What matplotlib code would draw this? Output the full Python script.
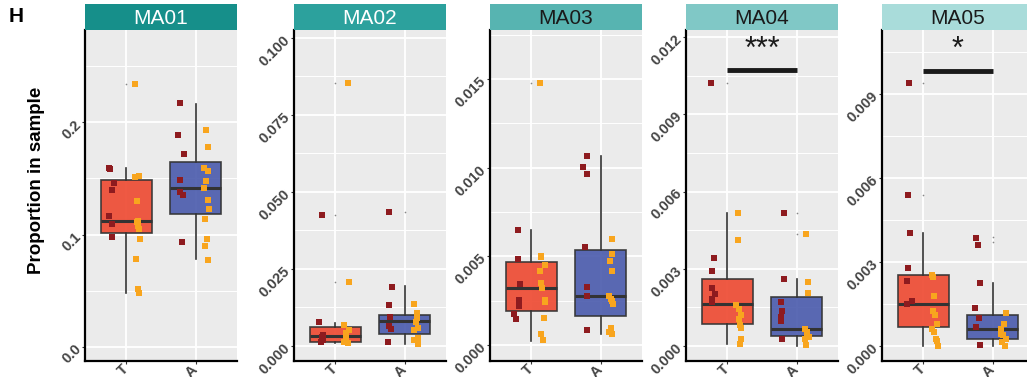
import matplotlib
matplotlib.use('Agg')
import matplotlib.pyplot as plt
import numpy as np

plt.rcParams['font.family'] = ['Liberation Sans', 'DejaVu Sans']

# ─── Data ───────────────────────────────────────────────────────────
panels = ['MA01', 'MA02', 'MA03', 'MA04', 'MA05']
groups = ['T', 'A']

# jittered points: dark red subgroup and orange subgroup, per panel
t_dark = [
    [0.1597, 0.1588, 0.1460, 0.1393, 0.1162, 0.1096, 0.0975],
    [0.0425, 0.0077, 0.0036, 0.0030, 0.0025, 0.0018, 0.0012],
    [0.00648, 0.00487, 0.00346, 0.00252, 0.0022, 0.00177, 0.00147],
    [0.01023, 0.0034, 0.0029, 0.00224, 0.00203, 0.00181, 0.0017],
    [0.0094, 0.00539, 0.00405, 0.0028, 0.00232, 0.00162, 0.00149],
]
t_orange = [
    [0.234, 0.1523, 0.1515, 0.1295, 0.1117, 0.1108, 0.1081, 0.1052, 0.0963, 0.0782, 0.0518, 0.0483],
    [0.0853, 0.0208, 0.0068, 0.0052, 0.0043, 0.0027, 0.0013, 0.0011],
    [0.01477, 0.00502, 0.00495, 0.0045, 0.00419, 0.00351, 0.00321, 0.00256, 0.00243, 0.00152, 0.0006, 0.00028],
    [0.00515, 0.00412, 0.00158, 0.00145, 0.0012, 0.00105, 0.00082, 0.00071, 0.00027, 0.00009],
    [0.00252, 0.00245, 0.00177, 0.00126, 0.0011, 0.00079, 0.0006, 0.00048, 0.00024, 0.00019, 0.0],
]
a_dark = [
    [0.2175, 0.189, 0.1716, 0.1484, 0.1375, 0.1354, 0.0933],
    [0.0435, 0.0192, 0.0134, 0.0094, 0.0066, 0.0054, 0.0013],
    [0.01067, 0.01006, 0.00966, 0.00553, 0.00329, 0.00276, 0.00085],
    [0.00515, 0.0026, 0.00172, 0.00138, 0.00114, 0.00097, 0.00026],
    [0.00387, 0.0036, 0.00226, 0.00136, 0.00099, 0.00069, 0.00004],
]
a_orange = [
    [0.1929, 0.178, 0.1594, 0.157, 0.1481, 0.1416, 0.131, 0.123, 0.114, 0.0963, 0.0898, 0.0773],
    [0.0136, 0.0108, 0.009, 0.0079, 0.0057, 0.0052, 0.0025, 0.0019, 0.0006],
    [0.006, 0.00513, 0.00472, 0.00417, 0.00276, 0.00257, 0.00248, 0.0023, 0.00098, 0.00071, 0.0006],
    [0.00435, 0.0025, 0.00207, 0.00065, 0.00056, 0.00043, 0.00034, 0.00026, 0.00003],
    [0.00119, 0.0008, 0.0006, 0.00044, 0.00039, 0.00025, 0.00015, 0.0],
]

# box stats: (lower whisker, q1, median, q3, upper whisker)
t_box = [
    (0.0483, 0.1016, 0.112, 0.1484, 0.1597),
    (0.0009, 0.0014, 0.0032, 0.0061, 0.0076),
    (0.00024, 0.00193, 0.00321, 0.00466, 0.00648),
    (0.00007, 0.00084, 0.00162, 0.00261, 0.00515),
    (0.0, 0.00067, 0.00149, 0.00254, 0.00402),
]
a_box = [
    (0.078, 0.1185, 0.1416, 0.165, 0.2166),
    (0.0006, 0.0038, 0.008, 0.0102, 0.0195),
    (0.0006, 0.00165, 0.00276, 0.00534, 0.01066),
    (0.00001, 0.00038, 0.00065, 0.0019, 0.00259),
    (0.0, 0.00023, 0.0006, 0.00112, 0.00225),
]
t_out = [[0.2338], [0.0425, 0.0853, 0.0208], [0.0148], [0.0102], [0.0094, 0.00539]]
a_out = [[], [0.0435], [], [0.00515, 0.00435], [0.00388, 0.0037]]

sig_text = ['', '', '', '***', '*']
sig_y = [None, None, None, 0.0107, 0.00983]

y_major = [
    [0.0, 0.1, 0.2],
    [0.0, 0.025, 0.05, 0.075, 0.1],
    [0.0, 0.005, 0.01, 0.015],
    [0.0, 0.003, 0.006, 0.009, 0.012],
    [0.0, 0.003, 0.006, 0.009],
]
y_labels = [
    ['0.0', '0.1', '0.2'],
    ['0.000', '0.025', '0.050', '0.075', '0.100'],
    ['0.000', '0.005', '0.010', '0.015'],
    ['0.000', '0.003', '0.006', '0.009', '0.012'],
    ['0.000', '0.003', '0.006', '0.009'],
]
y_lims = [(-0.0124, 0.282), (-0.0049, 0.1026), (-0.0009, 0.01776),
          (-0.00058, 0.01227), (-0.00054, 0.01129)]

strip_colors = ['#168F8A', '#2CA19D', '#57B4B1', '#80C8C6', '#A9DCDA']
strip_text = ['white', 'white', '#1A1A1A', '#1A1A1A', '#1A1A1A']
box_fill = {'T': '#EE4B33', 'A': '#4D5DAE'}
dark_col = '#8E1B1F'
orange_col = '#F8A51E'

# ─── Layout (pixels) ────────────────────────────────────────────────
W, H = 1027, 377
ax_left = [85, 294, 490, 686, 882]
ax_w = 152
ax_top, ax_bot = 30, 361
strip_top = 4

fig = plt.figure(figsize=(W / 100, H / 100), dpi=100)
rng = np.random.default_rng(3)

for i, name in enumerate(panels):
    x0 = ax_left[i] / W
    ax = fig.add_axes([x0, 1 - ax_bot / H, ax_w / W, (ax_bot - ax_top) / H])
    ax.set_facecolor('#EBEBEB')

    major = y_major[i]
    step = major[1] - major[0]
    minor = [m + step / 2 for m in major] + [major[0] - step / 2]
    ax.set_yticks(major)
    ax.set_yticklabels(y_labels[i])
    ax.set_yticks(minor, minor=True)
    ax.set_xticks([1, 2])
    ax.set_xticklabels(groups)
    ax.grid(True, which='major', color='white', linewidth=1.3, zorder=0)
    ax.grid(True, which='minor', axis='y', color='white', linewidth=0.7, zorder=0)
    ax.set_axisbelow(True)
    ax.tick_params(which='minor', length=0)
    ax.tick_params(which='major', length=2.5, width=0.8, color='#333333',
                   labelsize=10.5, labelcolor='#444444', pad=2)
    for lab in ax.get_yticklabels() + ax.get_xticklabels():
        lab.set_fontweight('bold')
        lab.set_rotation(45)
        lab.set_ha('right')
        lab.set_rotation_mode('anchor')
        lab.set_va('center')

    for s in ['top', 'right']:
        ax.spines[s].set_visible(False)
    for s in ['left', 'bottom']:
        ax.spines[s].set_linewidth(1.6)
        ax.spines[s].set_color('black')

    # boxes
    stats = []
    for b, fl in [(t_box[i], t_out[i]), (a_box[i], a_out[i])]:
        stats.append(dict(whislo=b[0], q1=b[1], med=b[2], q3=b[3], whishi=b[4], fliers=fl))
    bp = ax.bxp(stats, positions=[1, 2], widths=0.75, patch_artist=True,
                showcaps=False, manage_ticks=False,
                boxprops=dict(edgecolor='#333333', linewidth=1.2),
                whiskerprops=dict(color='#333333', linewidth=1.2),
                medianprops=dict(color='#333333', linewidth=2.2),
                flierprops=dict(marker='o', markersize=1.2, markerfacecolor='#888888',
                                markeredgecolor='none'))
    for patch, g in zip(bp['boxes'], groups):
        patch.set_facecolor(box_fill[g])
        patch.set_alpha(0.92)
        patch.set_zorder(2)

    # jittered points
    for pos, dk, orr in [(1, t_dark[i], t_orange[i]), (2, a_dark[i], a_orange[i])]:
        xd = pos - 0.21 + rng.uniform(-0.045, 0.045, len(dk))
        xo = pos + 0.16 + rng.uniform(-0.045, 0.045, len(orr))
        ax.plot(xd, dk, 's', color=dark_col, markersize=3.9, markeredgewidth=0, zorder=4)
        ax.plot(xo, orr, 's', color=orange_col, markersize=3.9, markeredgewidth=0, zorder=4)

    # significance bracket
    if sig_y[i] is not None:
        ax.plot([1, 2], [sig_y[i], sig_y[i]], color='#1A1A1A', linewidth=3.5,
                solid_capstyle='butt', zorder=5)
        ax.annotate(sig_text[i], (1.5, sig_y[i]), xytext=(0, 4), textcoords='offset points',
                    ha='center', va='bottom', fontsize=22, color='#1A1A1A')

    ax.set_xlim(0.4, 2.6)
    ax.set_ylim(*y_lims[i])

    # strip
    sax = fig.add_axes([x0, 1 - ax_top / H, ax_w / W, (ax_top - strip_top) / H])
    sax.set_facecolor(strip_colors[i])
    sax.set_xticks([])
    sax.set_yticks([])
    for s in sax.spines.values():
        s.set_visible(False)
    sax.text(0.5, 0.45, name, ha='center', va='center', fontsize=15,
             color=strip_text[i], transform=sax.transAxes)

fig.text(37 / W, 1 - 180 / H, 'Proportion in sample', rotation=90, ha='center',
         va='center', fontsize=13.5, fontweight='bold')
fig.text(9 / W, 1 - 17 / H, 'H', ha='left', va='center', fontsize=15, fontweight='bold')

fig.savefig('out.png', dpi=100, facecolor='white')
